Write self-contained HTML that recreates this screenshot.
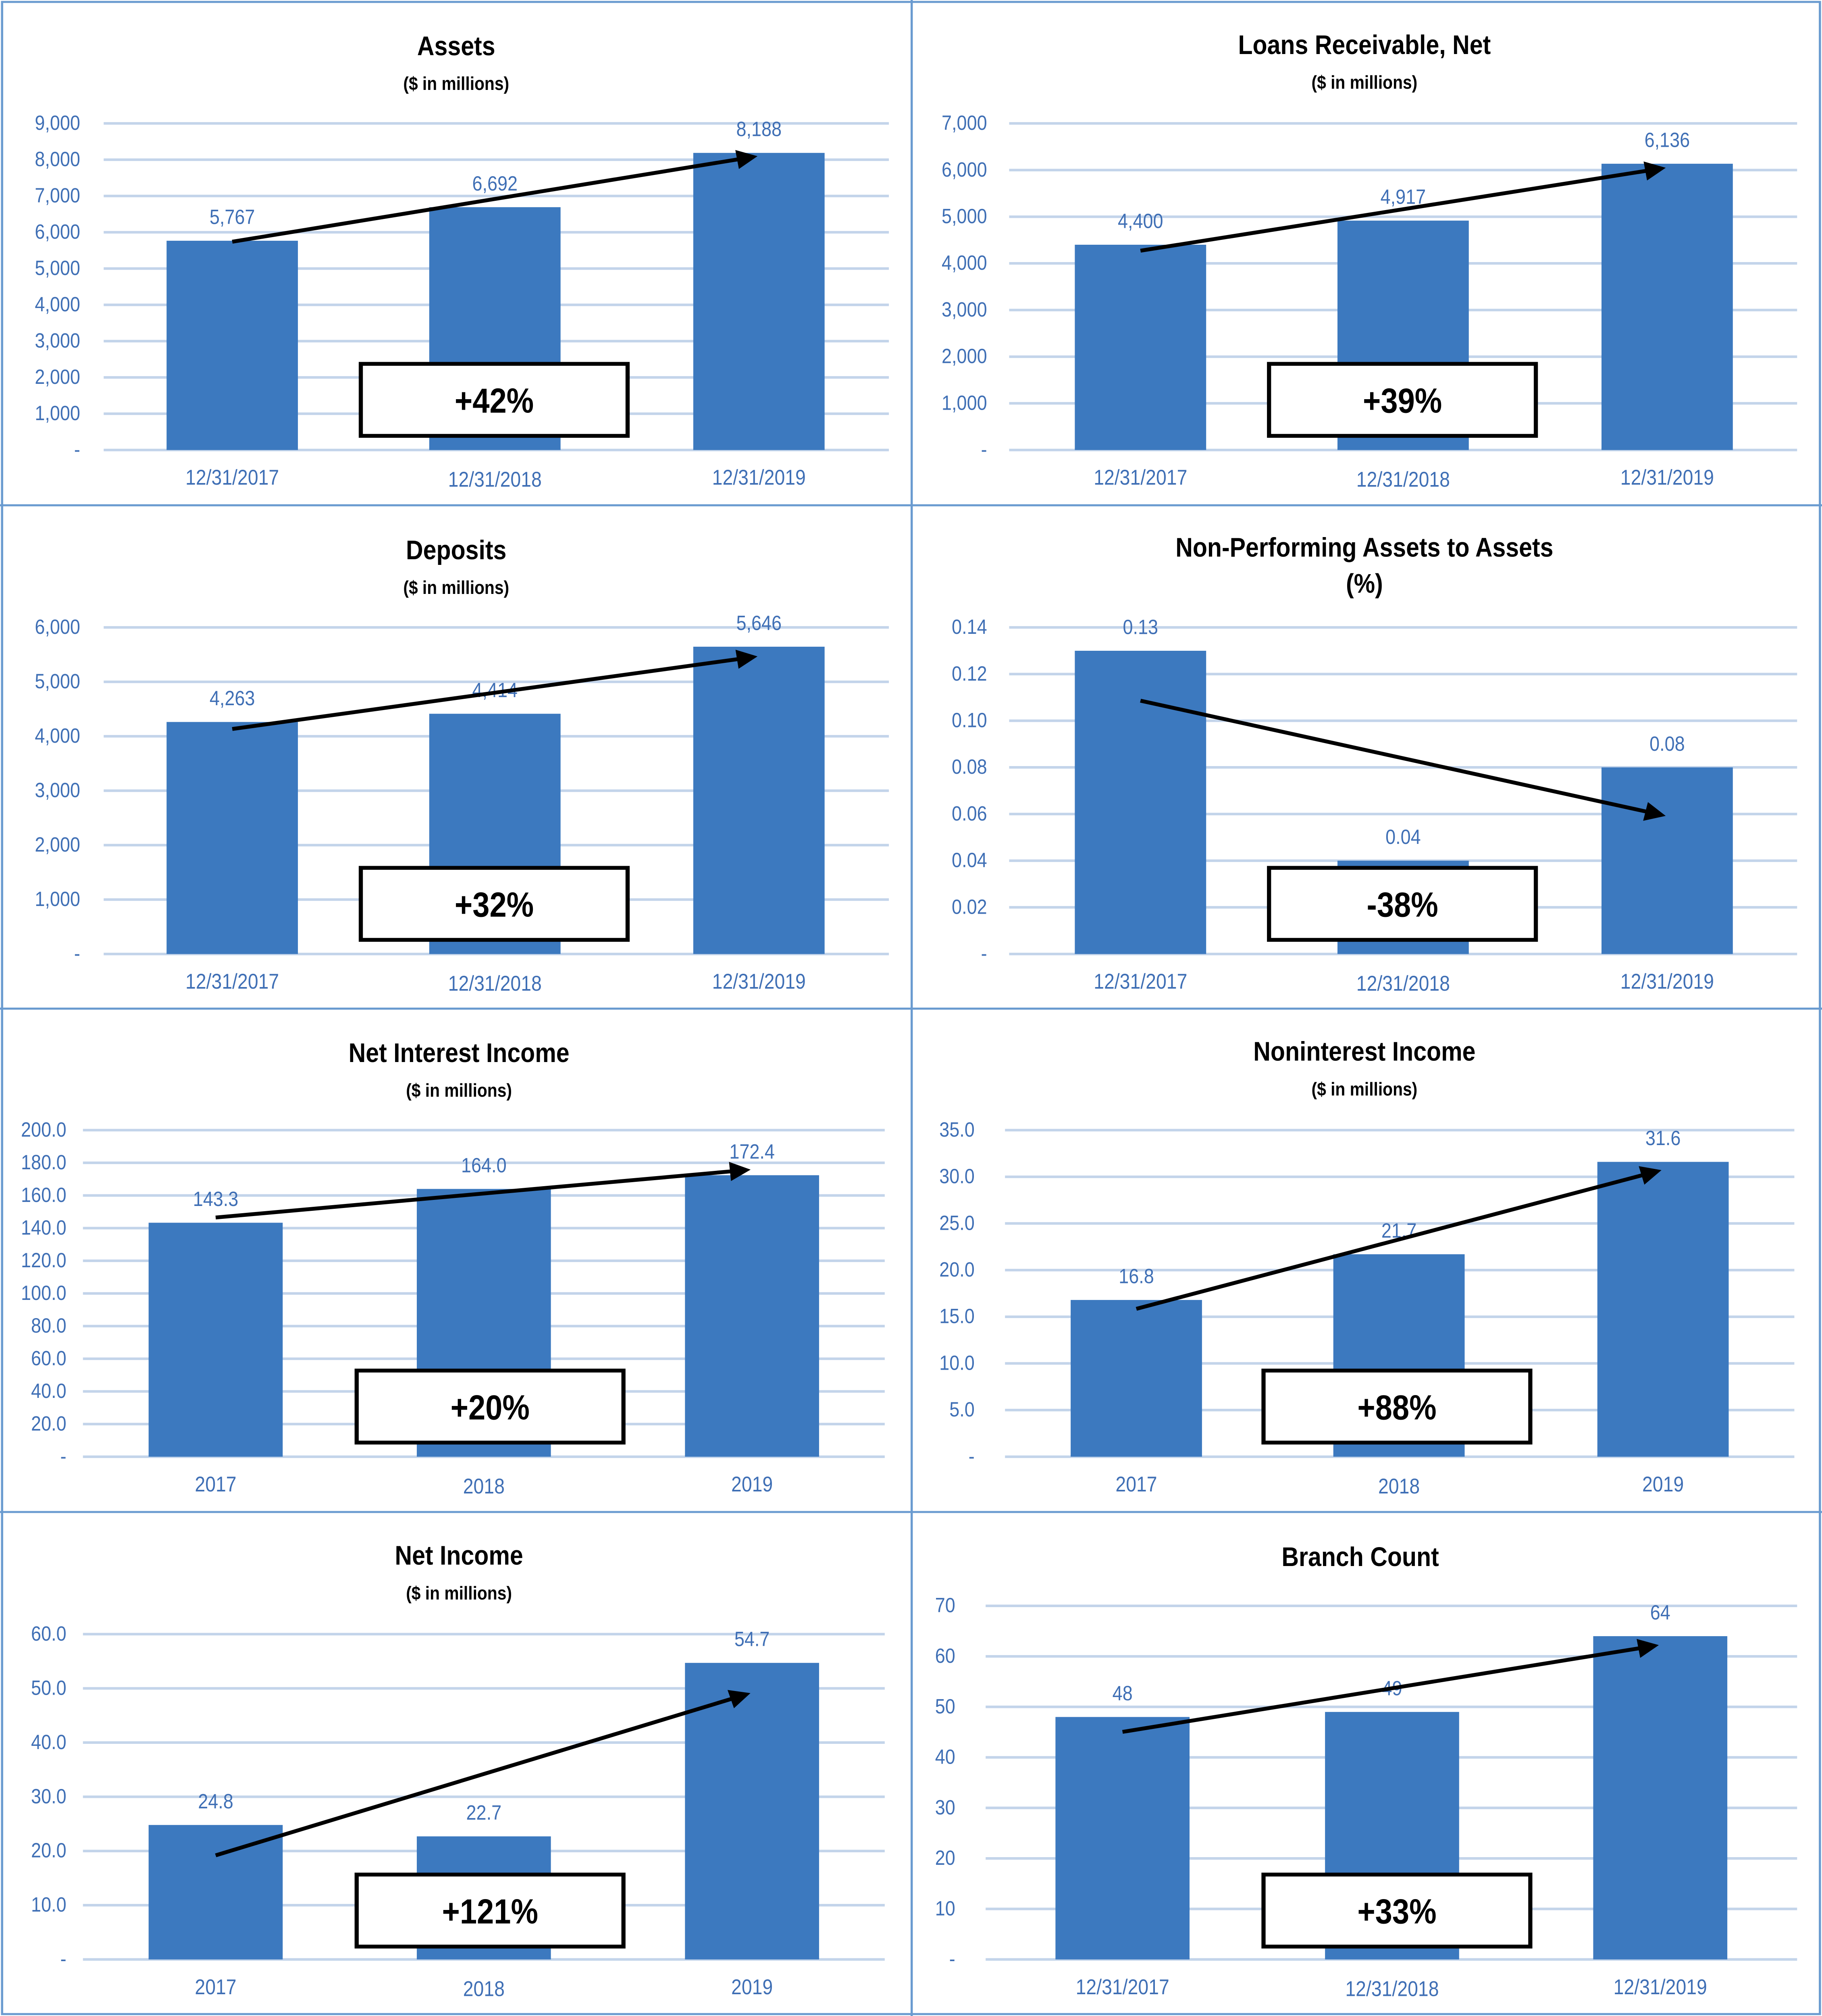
<!DOCTYPE html>
<html><head><meta charset="utf-8">
<style>
html,body{margin:0;padding:0;background:#fff;width:100%;height:100%;overflow:hidden;}
svg{display:block;position:fixed;left:0;top:0;width:100vw;height:100vh;}
text{font-family:"Liberation Sans",sans-serif;}
</style></head>
<body>
<svg id="root" viewBox="0 0 1318 1568" preserveAspectRatio="none" xmlns="http://www.w3.org/2000/svg">
<defs>
<marker id="ah" viewBox="0 0 10 10" refX="8" refY="5" markerWidth="5" markerHeight="5" orient="auto-start-reverse">
<path d="M0,0 L10,5 L0,10 z" fill="#000"/>
</marker>
</defs>
<rect x="0" y="0" width="1318" height="1568" fill="#fff"/>
<g id="panels"></g>
<g id="borders" stroke="#6a9bd0" stroke-width="1.6" fill="none">
<rect x="1.5" y="1.5" width="1315" height="1565"/>
<line x1="659.5" y1="0" x2="659.5" y2="1568"/>
<line x1="0" y1="393" x2="1318" y2="393"/>
<line x1="0" y1="784.5" x2="1318" y2="784.5"/>
<line x1="0" y1="1176" x2="1318" y2="1176"/>
</g>
</svg>
<script>
const categoriesDate = ["12/31/2017","12/31/2018","12/31/2019"];
const categoriesYear = ["2017","2018","2019"];
const assetsValues = [5767,6692,8188];
const assetsLabels = ["5,767","6,692","8,188"];
const assetsTicks = ["-","1,000","2,000","3,000","4,000","5,000","6,000","7,000","8,000","9,000"];
const loansValues = [4400,4917,6136];
const loansLabels = ["4,400","4,917","6,136"];
const loansTicks = ["-","1,000","2,000","3,000","4,000","5,000","6,000","7,000"];
const depositsValues = [4263,4414,5646];
const depositsLabels = ["4,263","4,414","5,646"];
const depositsTicks = ["-","1,000","2,000","3,000","4,000","5,000","6,000"];
const npaValues = [0.13,0.04,0.08];
const npaLabels = ["0.13","0.04","0.08"];
const npaTicks = ["-","0.02","0.04","0.06","0.08","0.10","0.12","0.14"];
const niiValues = [143.3,164.0,172.4];
const niiLabels = ["143.3","164.0","172.4"];
const niiTicks = ["-","20.0","40.0","60.0","80.0","100.0","120.0","140.0","160.0","180.0","200.0"];
const nonIntValues = [16.8,21.7,31.6];
const nonIntLabels = ["16.8","21.7","31.6"];
const nonIntTicks = ["-","5.0","10.0","15.0","20.0","25.0","30.0","35.0"];
const netIncomeValues = [24.8,22.7,54.7];
const netIncomeLabels = ["24.8","22.7","54.7"];
const netIncomeTicks = ["-","10.0","20.0","30.0","40.0","50.0","60.0"];
const branchValues = [48,49,64];
const branchLabels = ["48","49","64"];
const branchTicks = ["-","10","20","30","40","50","60","70"];
const assetsArrow = [5740,8079];
const loansArrow = [4272,6036];
const depositsArrow = [4134,5457];
const npaArrow = [0.1086,0.0596];
const niiArrow = [146.5,175.6];
const nonIntArrow = [15.85,30.6];
const netIncomeArrow = [19.2,48.9];
const branchArrow = [45.05,62.1];
const changeLabels = ["+42%","+39%","+32%","-38%","+20%","+88%","+121%","+33%"];

const NS="http://www.w3.org/2000/svg";
const root=document.getElementById('panels');
function mk(tag,attrs,parent,txt){const e=document.createElementNS(NS,tag);for(const k in attrs)e.setAttribute(k,attrs[k]);if(txt!==undefined)e.textContent=txt;parent.appendChild(e);return e;}
function tx(x,y,attrs,parent,txt){
  const a=Object.assign({x:0,y:0,transform:'translate('+x+','+y+') scale(0.82,1)'},attrs);
  return mk('text',a,parent,txt);
}

function drawPanel(cfg){
  const g=mk('g',{},root);
  
  
  const top=cfg.top, bot=cfg.bot;
  const maxV=cfg.max;
  const y=v=>bot-(v/maxV)*(bot-top);
  const x=i=>cfg.centers[i];
  const t=tx(cfg.titleX,cfg.titleY,{'text-anchor':'middle','font-size':21,'font-weight':'bold',fill:'#000'},g,cfg.title);
  
  
  if(cfg.title2){const t2=tx(cfg.titleX,cfg.titleY+28,{'text-anchor':'middle','font-size':21,'font-weight':'bold',fill:'#000'},g,cfg.title2);
    
    }
  if(cfg.sub){const s=tx(cfg.titleX,cfg.titleY+27,{'text-anchor':'middle','font-size':14.5,'font-weight':'bold',fill:'#000'},g,cfg.sub);
    
    }
  const n=cfg.ticks.length;
  for(let i=0;i<n;i++){
    const v=maxV*i/(n-1), yy=y(v);
    const l=mk('line',{x1:cfg.gx1,x2:cfg.gx2,y1:yy,y2:yy,stroke:'#c3d4ea','stroke-width':2},g);
    
    
    const tl=tx(cfg.tickX,yy+5,{'text-anchor':'end','font-size':16,fill:'#3f6fb5'},g,cfg.ticks[i]);
    
    
  }
  for(let i=0;i<3;i++){
    const v=cfg.values[i];
    const b=mk('rect',{x:x(i)-cfg.bw/2,y:y(v),width:cfg.bw,height:bot-y(v),fill:'#3c79bf'},g);
    
    
    const vl=tx(x(i),y(v)-13,{'text-anchor':'middle','font-size':16,fill:'#3f6fb5'},g,cfg.labels[i]);
    
    
    const xl=tx(x(i),bot+27+(i==1?1.5:0),{'text-anchor':'middle','font-size':16.5,fill:'#3f6fb5'},g,cfg.cats[i]);
    
    
  }
  const a=mk('line',{x1:x(0),y1:y(cfg.arrow[0]),x2:x(2)-4,y2:y(cfg.arrow[1]),stroke:'#000','stroke-width':3,'marker-end':'url(#ah)'},g);
  
  
  const bx=mk('rect',{x:cfg.boxX,y:cfg.boxY,width:193,height:56,fill:'#fff',stroke:'#000','stroke-width':3},g);
  
  
  const bt=tx(cfg.boxX+96.5,cfg.boxY+38,{'text-anchor':'middle','font-size':27,'font-weight':'bold',fill:'#000'},g,cfg.change);
  
  
}

const L={gx1:75,gx2:643,tickX:58,centers:[168,358,549],bw:95,boxX:261,titleX:330};
const R={gx1:730,gx2:1300,tickX:714,centers:[825,1015,1206],bw:95,boxX:918,titleX:987};
drawPanel(Object.assign({},L,{name:'assets',title:'Assets',sub:'($ in millions)',titleY:43,top:96,bot:350,max:9000,ticks:assetsTicks,values:assetsValues,labels:assetsLabels,cats:categoriesDate,arrow:assetsArrow,boxY:283,change:changeLabels[0]}));
drawPanel(Object.assign({},R,{name:'loans',title:'Loans Receivable, Net',sub:'($ in millions)',titleY:42,top:96,bot:350,max:7000,ticks:loansTicks,values:loansValues,labels:loansLabels,cats:categoriesDate,arrow:loansArrow,boxY:283,change:changeLabels[1]}));
drawPanel(Object.assign({},L,{name:'deposits',title:'Deposits',sub:'($ in millions)',titleY:435,top:488,bot:742,max:6000,ticks:depositsTicks,values:depositsValues,labels:depositsLabels,cats:categoriesDate,arrow:depositsArrow,boxY:675,change:changeLabels[2]}));
drawPanel(Object.assign({},R,{name:'npa',title:'Non-Performing Assets to Assets',title2:'(%)',titleY:433,top:488,bot:742,max:0.14,ticks:npaTicks,values:npaValues,labels:npaLabels,cats:categoriesDate,arrow:npaArrow,boxY:675,change:changeLabels[3]}));
drawPanel(Object.assign({},L,{name:'net-interest-income',title:'Net Interest Income',sub:'($ in millions)',titleY:826,top:879,bot:1133,max:200,ticks:niiTicks,values:niiValues,labels:niiLabels,cats:categoriesYear,arrow:niiArrow,boxY:1066,change:changeLabels[4],gx1:60,gx2:640,tickX:48,centers:[156,350,544],bw:97,boxX:258,titleX:332}));
drawPanel(Object.assign({},R,{name:'noninterest-income',title:'Noninterest Income',sub:'($ in millions)',titleY:825,top:879,bot:1133,max:35,ticks:nonIntTicks,values:nonIntValues,labels:nonIntLabels,cats:categoriesYear,arrow:nonIntArrow,boxY:1066,change:changeLabels[5],gx1:727,gx2:1298,tickX:705,centers:[822,1012,1203],boxX:914}));
drawPanel(Object.assign({},L,{name:'net-income',title:'Net Income',sub:'($ in millions)',titleY:1217,top:1271,bot:1524,max:60,ticks:netIncomeTicks,values:netIncomeValues,labels:netIncomeLabels,cats:categoriesYear,arrow:netIncomeArrow,boxY:1458,change:changeLabels[6],gx1:60,gx2:640,tickX:48,centers:[156,350,544],bw:97,boxX:258,titleX:332}));
drawPanel(Object.assign({},R,{name:'branch-count',title:'Branch Count',titleY:1218,top:1249,bot:1524,max:70,ticks:branchTicks,values:branchValues,labels:branchLabels,cats:categoriesDate,arrow:branchArrow,boxY:1458,change:changeLabels[7],gx1:713,gx2:1300,tickX:691,centers:[812,1007,1201],bw:97,boxX:914,titleX:984}));
</script>
</body></html>
